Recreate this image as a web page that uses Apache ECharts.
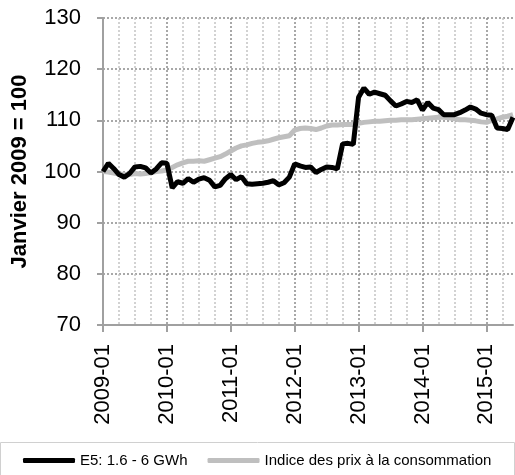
<!DOCTYPE html>
<html>
<head>
<meta charset="utf-8">
<script src="https://cdn.jsdelivr.net/npm/echarts@6/dist/echarts.min.js"></script>
<style>
  html, body { margin: 0; padding: 0; background: #fff; }
  #chart { width: 515px; height: 475px; }
</style>
</head>
<body>
<div id="chart"></div>
<script>
// months 2009-01 .. 2015-06
const years = [2009, 2010, 2011, 2012, 2013, 2014, 2015]
const months = []
years.forEach(y => {
  for (let m = 1; m <= 12; m++) {
    if (y === 2015 && m > 6) break
    months.push(y + '-' + (m < 10 ? '0' + m : m))
  }
})

const e5 = [
  100, 101.6, 100.6, 99.4, 98.9, 99.6, 100.9, 101, 100.7, 99.7, 100.5, 101.7,
  101.6, 96.8, 98.0, 97.7, 98.6, 97.9, 98.5, 98.8, 98.3, 97.0, 97.3, 98.6,
  99.4, 98.4, 99.0, 97.6, 97.5, 97.6, 97.7, 97.9, 98.2, 97.4, 97.8, 98.9,
  101.5, 101.1, 100.8, 100.9, 99.8, 100.4, 100.9, 100.8, 100.5, 105.4, 105.5, 105.3,
  114.5, 116.3, 115.1, 115.5, 115.2, 114.9, 113.8, 112.8, 113.2, 113.7, 113.5, 114.0,
  112.0, 113.5, 112.4, 112.1, 111.1, 111.1, 111.1, 111.5, 112.0, 112.6, 112.2, 111.4,
  111.1, 111.0, 108.5, 108.4, 108.2, 110.6
]

const ipc = [
  100, 99.9, 99.7, 99.5, 99.4, 99.4, 99.6, 99.5, 99.6, 99.8, 100, 100.1,
  100.3, 100.8, 101.3, 101.7, 102, 102, 102.1, 102, 102.3, 102.6, 102.9, 103.4,
  104, 104.6, 105, 105.2, 105.5, 105.7, 105.8, 106, 106.3, 106.6, 106.8, 107,
  108.1, 108.4, 108.5, 108.4, 108.2, 108.5, 108.9, 109.1, 109.1, 109.2, 109.2, 109.2,
  109.4, 109.6, 109.7, 109.8, 109.8, 109.9, 110, 110, 110.1, 110.1, 110.1, 110.2,
  110.3, 110.4, 110.5, 110.6, 110.6, 110.5, 110.3, 110.1, 110.1, 110, 109.9, 109.7,
  109.6, 110, 110.3, 110.6, 110.8, 111.1
]

const seriesNames = ['E5: 1.6 - 6 GWh', 'Indice des prix à la consommation']
const yTitle = 'Janvier 2009 = 100'

const font = 'Liberation Sans'
const chart = echarts.init(document.getElementById('chart'))

chart.setOption({
  animation: false,
  textStyle: { fontFamily: font },
  grid: { left: 103, right: 2, top: 18, bottom: 150 },
  legend: {
    data: [seriesNames[0], seriesNames[1]],
    left: 18,
    top: 448,
    icon: 'roundRect',
    itemWidth: 52,
    itemHeight: 5,
    itemGap: 20,
    textStyle: { fontSize: 15, color: '#000', fontFamily: font }
  },
  graphic: [{
    type: 'rect',
    shape: { x: 0.5, y: 442.5, width: 514, height: 40 },
    style: { fill: 'none', stroke: '#d0d0d0', lineWidth: 1 },
    silent: true
  }],
  xAxis: {
    type: 'category',
    data: months,
    boundaryGap: false,
    axisLine: { lineStyle: { color: '#a0a0a0', width: 2 } },
    axisTick: {
      interval: (i) => i % 12 === 0,
      length: 7,
      lineStyle: { color: '#a0a0a0', width: 2 }
    },
    axisLabel: {
      interval: (i) => i % 12 === 0,
      rotate: 90,
      margin: 19,
      fontSize: 22,
      color: '#000'
    },
    splitLine: {
      show: true,
      interval: (i) => i % 3 === 0,
      lineStyle: {
        type: [2, 2],
        color: ['#8c8c8c', '#c4c4c4', '#c4c4c4', '#c4c4c4'],
        width: 1.5
      }
    }
  },
  yAxis: {
    type: 'value',
    min: 70,
    max: 130,
    interval: 10,
    name: yTitle,
    nameLocation: 'middle',
    nameGap: 72,
    nameTextStyle: { fontSize: 22, fontWeight: 'bold', color: '#000' },
    axisLine: { show: true, lineStyle: { color: '#a0a0a0', width: 2 } },
    axisTick: { show: true, length: 6, lineStyle: { color: '#a0a0a0', width: 2 } },
    axisLabel: { fontSize: 22, color: '#000', margin: 22 },
    splitLine: {
      lineStyle: { type: [2, 2], color: '#8c8c8c', width: 1.5 }
    }
  },
  series: [
    {
      name: seriesNames[1],
      type: 'line',
      data: ipc,
      showSymbol: false,
      color: '#bfbfbf',
      lineStyle: { width: 5, color: '#bfbfbf' },
      z: 2
    },
    {
      name: seriesNames[0],
      type: 'line',
      data: e5,
      showSymbol: false,
      color: '#000',
      lineStyle: { width: 5, color: '#000' },
      z: 3
    }
  ]
})
</script>
</body>
</html>
